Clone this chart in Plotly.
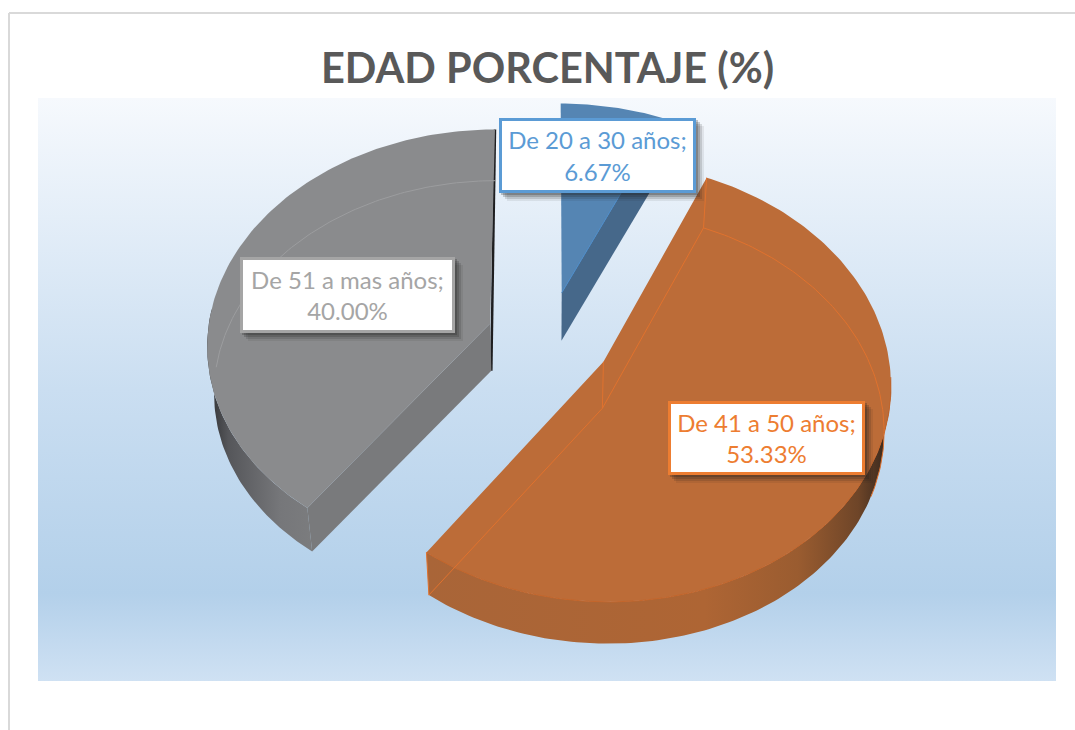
import numpy as np
import plotly.graph_objects as go

categories = ['De 20 a 30 años', 'De 41 a 50 años', 'De 51 a mas años']
values = [6.67, 53.33, 40.00]
title = 'EDAD PORCENTAJE (%)'

label_colors = ['#5B9BD5', '#ED7D31', '#A5A5A5']
top_colors = ['#5585B3', '#BC6C38', '#8A8B8D']
line_colors = ['#4A8AC8', '#E0722E', '#9C9D9F']
# label boxes: left, top, right, bottom (px)
label_boxes = [(499, 118, 696, 193), (668, 401, 865, 475), (240, 257, 455, 333)]

# 3d pie look
CX, CY = 549, 338
RX, RY = 283, 214
PERSP = 0.09
EXPLODE = 0.22
DEPTH = 47
BOTTOM_SCALE = 0.98


def project(u, v, bottom=False):
    w = 1 - PERSP * v
    x, y = RX * u / w, RY * v / w
    if bottom:
        return CX + x * BOTTOM_SCALE, CY + DEPTH + y * BOTTOM_SCALE
    return CX + x, CY + y


def offset(mid):
    t = np.radians(mid)
    return EXPLODE * np.sin(t), -EXPLODE * np.cos(t)


def rim(mid, t0, t1, bottom=False):
    du, dv = offset(mid)
    t = np.radians(np.linspace(t0, t1, max(int(abs(t1 - t0)), 2) + 1))
    return project(du + np.sin(t), dv - np.cos(t), bottom)


def apex(mid, bottom=False):
    du, dv = offset(mid)
    return project(du, dv, bottom)


def poly(x, y, color=None, gradient=None):
    tr = go.Scatter(x=list(x), y=list(y), mode='lines', line=dict(width=0),
                    fill='toself', hoverinfo='skip', showlegend=False)
    if gradient:
        tr.fillgradient = dict(type='horizontal', colorscale=gradient)
    else:
        tr.fillcolor = color
    return tr


def edge(x, y, color, width=1):
    return go.Scatter(x=list(x), y=list(y), mode='lines', hoverinfo='skip', showlegend=False,
                      line=dict(color=color, width=width))


fig = go.Figure()

# plot area background
fig.add_trace(go.Scatter(x=[38, 1056, 1056, 38, 38], y=[98, 98, 681, 681, 98], mode='lines',
                         line=dict(width=0), fill='toself', hoverinfo='skip', showlegend=False,
                         fillgradient=dict(type='vertical', colorscale=[
                             [0, '#CFE1F3'], [0.15, '#B3D0EA'], [0.5, '#CADEF1'], [1, '#F6F9FD']])))

cum = np.cumsum([0] + values)
angles = [(360 * cum[i] / cum[-1], 360 * cum[i + 1] / cum[-1]) for i in range(len(values))]

# gray
t0, t1 = angles[2]
mid = (t0 + t1) / 2
ax, ay = apex(mid)
gx, gy = apex(mid, True)
tx, ty = rim(mid, t0, t1)
bx, by = rim(mid, t0, t1, True)
fig.add_trace(edge([tx[-1], gx], [ty[-1], gy], '#1E1E20', 2.5))
wx, wy = rim(mid, t0, t0 + 58)
vx, vy = rim(mid, t0, t0 + 58, True)
fig.add_trace(poly(np.r_[wx, vx[::-1]], np.r_[wy, vy[::-1]],
                   gradient=[[0, '#2E2F31'], [0.2, '#55565A'], [0.7, '#76777A'], [1, '#7B7C7E']]))
fig.add_trace(poly([ax, tx[0], bx[0], gx, ax], [ay, ty[0], by[0], gy, ay], '#797A7C'))
fig.add_trace(poly(np.r_[ax, tx, ax], np.r_[ay, ty, ay], top_colors[2]))
fig.add_trace(edge(bx[55:], by[55:], line_colors[2]))

# blue
t0, t1 = angles[0]
mid = (t0 + t1) / 2
ax, ay = apex(mid)
gx, gy = apex(mid, True)
tx, ty = rim(mid, t0, t1)
bx, by = rim(mid, t0, t1, True)
fig.add_trace(poly([ax, tx[-1], bx[-1], gx, ax], [ay, ty[-1], by[-1], gy, ay], '#46688A'))
fig.add_trace(poly(np.r_[ax, tx, ax], np.r_[ay, ty, ay], top_colors[0]))
fig.add_trace(edge([ax, tx[-1]], [ay, ty[-1]], line_colors[0]))

# orange
t0, t1 = angles[1]
mid = (t0 + t1) / 2
ax, ay = apex(mid)
gx, gy = apex(mid, True)
tx, ty = rim(mid, t0, t1)
bx, by = rim(mid, t0, t1, True)
wx, wy = rim(mid, t0 + 70, t1)
vx, vy = rim(mid, t0 + 70, t1, True)
fig.add_trace(poly(np.r_[wx, vx[::-1]], np.r_[wy, vy[::-1]],
                   gradient=[[0, '#A96538'], [0.6, '#AE6534'], [0.8, '#9A5C30'], [0.93, '#6E4528'], [1, '#30241C']]))
fig.add_trace(poly(np.r_[ax, tx, ax], np.r_[ay, ty, ay], top_colors[1]))
fig.add_trace(edge(wx, wy, '#C4652A'))
fig.add_trace(edge([bx[0], gx, bx[-1]], [by[0], gy, by[-1]], line_colors[1]))
fig.add_trace(edge(bx[:90], by[:90], line_colors[1]))
fig.add_trace(edge([ax, gx], [ay, gy], line_colors[1]))
fig.add_trace(edge([tx[0], bx[0]], [ty[0], by[0]], line_colors[1]))
fig.add_trace(edge([tx[-1], bx[-1]], [ty[-1], by[-1]], line_colors[1]))

# data labels + soft shadows
shapes = [
    dict(type='line', xref='paper', yref='paper', x0=9 / 1075, x1=1, y0=1 - 13 / 730, y1=1 - 13 / 730,
         line=dict(color='#D9D9D9', width=2)),
    dict(type='line', xref='paper', yref='paper', x0=9 / 1075, x1=9 / 1075, y0=0, y1=1 - 13 / 730,
         line=dict(color='#D9D9D9', width=2)),
]
annotations = []
for name, val, col, box in zip(categories, values, label_colors, label_boxes):
    x0, y0, x1, y1 = box
    for off, op in [(8, 0.08), (6, 0.14), (4, 0.2), (2, 0.25)]:
        shapes.append(dict(type='rect', x0=x0 + off, x1=x1 + off, y0=y0 + off, y1=y1 + off, layer='above',
                           line=dict(width=0), fillcolor=f'rgba(30,30,30,{op})'))
    annotations.append(dict(x=(x0 + x1) / 2, y=(y0 + y1) / 2, xanchor='center', yanchor='middle',
                            text=f'{name};<br>{val:.2f}%', showarrow=False, align='center',
                            width=x1 - x0 - 6, height=y1 - y0 - 6, bgcolor='white', bordercolor=col,
                            borderwidth=3, borderpad=0, font=dict(family='Lato', size=24, color=col)))

annotations.append(dict(x=547, y=67, xanchor='center', yanchor='middle', text=f'<b>{title}</b>', showarrow=False,
                        font=dict(family='Lato', size=41.5, color='#595959')))

fig.update_layout(width=1075, height=730, margin=dict(l=0, r=0, t=0, b=0), showlegend=False,
                  paper_bgcolor='white', plot_bgcolor='white', shapes=shapes, annotations=annotations,
                  xaxis=dict(range=[0, 1075], visible=False, fixedrange=True),
                  yaxis=dict(range=[730, 0], visible=False, fixedrange=True))

fig.write_html('out.html', config={'displayModeBar': False},
               post_script="document.body.style.margin='0';")
